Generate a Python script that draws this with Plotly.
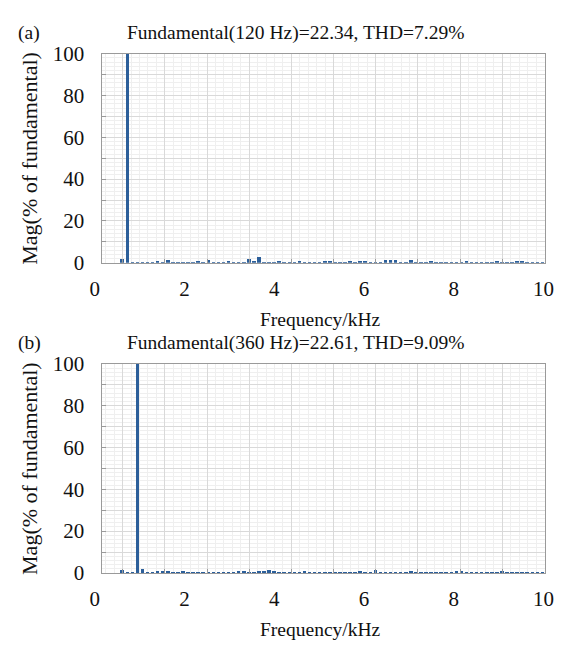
import plotly.graph_objects as go

W, H = 566, 654

# harmonic spacing of the spectrum bins (kHz)
bin_step_khz = 0.12
x_tick_vals = [0, 1, 2, 3, 4, 5, 6, 7, 8, 9, 10]
x_label_vals = [0, 2, 4, 6, 8, 10]
x_label_text = ["0", "2", "4", "6", "8", "10"]
y_tick_vals = [0, 10, 20, 30, 40, 50, 60, 70, 80, 90, 100]
y_tick_text = ["0", "", "20", "", "40", "", "60", "", "80", "", "100"]

# (a) fundamental 120 Hz, magnitude in % of fundamental, bins 0..83
mag_a = [1.8, 100, 0.6, 0.6, 0.6, 0.6, 0.7, 1.2, 0.6, 1.3,
         0.5, 0.4, 0.3, 0.3, 0.3, 1.2, 0.6, 1.3, 0.6, 0.6,
         0.6, 0.9, 0.3, 0.2, 0.2, 1.9, 0.9, 3.0, 0.6, 0.6,
         0.6, 1.1, 0.6, 0.7, 0.6, 1.2, 0.6, 0.5, 0.5, 0.4,
         0.9, 1.2, 0.5, 0.5, 0.5, 0.9, 0.5, 1.1, 1.2, 0.5,
         0.4, 0.3, 1.3, 1.4, 1.4, 0.5, 0.4, 1.3, 0.7, 0.5,
         0.5, 0.9, 0.5, 0.4, 0.3, 0.4, 0.4, 0.5, 0.8, 0.5,
         0.5, 0.5, 0.5, 0.6, 0.8, 0.5, 0.4, 0.5, 1.2, 1.2,
         0.5, 0.5, 0.5, 0.5]

# (b) fundamental 360 Hz
mag_b = [1.4, 0.7, 0.4, 100, 1.8, 0.5, 0.4, 0.8, 1.2, 0.8,
         0.4, 0.3, 1.1, 0.6, 0.6, 0.5, 0.5, 0.5, 0.5, 0.5,
         0.5, 0.5, 0.6, 1.2, 1.0, 0.5, 0.5, 0.9, 0.9, 1.6,
         1.2, 0.5, 0.6, 0.7, 0.4, 0.4, 1.2, 0.6, 0.5, 0.5,
         0.4, 0.4, 0.4, 0.4, 0.4, 0.4, 0.6, 0.8, 0.6, 0.5,
         1.6, 0.5, 0.4, 0.4, 0.5, 0.6, 0.5, 0.8, 0.5, 0.4,
         0.4, 0.4, 0.4, 0.4, 0.5, 0.7, 0.8, 0.8, 0.7, 0.6,
         0.6, 0.5, 0.5, 0.4, 0.4, 0.8, 0.6, 0.6, 0.5, 0.5,
         0.6, 0.5, 0.4, 0.4]

freq_khz = [round(k * bin_step_khz, 2) for k in range(len(mag_a))]

titles = ["Fundamental(120 Hz)=22.34, THD=7.29%",
          "Fundamental(360 Hz)=22.61, THD=9.09%"]
panel_labels = ["(a)", "(b)"]
x_title = "Frequency/kHz"
y_title = "Mag(% of fundamental)"

BAR = "#2c5f9a"
FONT = "Liberation Serif"
TXT = "#111111"

# pixel layout
px_left, px_right = 92, 547
lab_left, lab_right = 84, 546
panels_px = [(35, 252), (357, 574)]


def fx(px):
    return px / W


def fy(py):
    return 1 - py / H


fig = go.Figure()
series = [mag_a, mag_b]
for i, mags in enumerate(series):
    n = "" if i == 0 else str(i + 1)
    ln = str(i + 3)  # label axes
    top, bot = panels_px[i]
    fig.add_trace(go.Bar(x=freq_khz, y=mags, xaxis="x" + n, yaxis="y" + n,
                         marker=dict(color=BAR, line=dict(width=0)),
                         width=0.085, showlegend=False, hoverinfo="skip"))
    # invisible carrier for the frequency label axis
    fig.add_trace(go.Scatter(x=[x_label_vals[0], x_label_vals[-1]], y=[0, 0],
                             xaxis="x" + ln, yaxis="y" + ln, mode="markers",
                             marker=dict(opacity=0), showlegend=False,
                             hoverinfo="skip"))
    axis_common = dict(showline=True, linecolor="#9a9a9a", linewidth=1,
                       mirror=True, ticks="inside", ticklen=4, tickcolor="#9a9a9a",
                       gridcolor="#d9d9d9", gridwidth=1, zeroline=False,
                       tickfont=dict(family=FONT, size=21, color=TXT))
    fig.layout["xaxis" + n] = dict(axis_common, domain=[fx(px_left), fx(px_right)],
                                   anchor="y" + n, range=[-0.48, 10],
                                   tickmode="array", tickvals=x_tick_vals,
                                   showticklabels=False,
                                   minor=dict(dtick=0.2, tick0=0, showgrid=True,
                                              gridcolor="#efefef", gridwidth=1))
    fig.layout["yaxis" + n] = dict(axis_common, domain=[fy(bot), fy(top)],
                                   anchor="x" + n, range=[0, 100],
                                   tickmode="array", tickvals=y_tick_vals,
                                   ticktext=y_tick_text, ticklabelstandoff=13,
                                   minor=dict(dtick=2, tick0=0, showgrid=True,
                                              gridcolor="#efefef", gridwidth=1))
    fig.layout["xaxis" + ln] = dict(domain=[fx(lab_left), fx(lab_right)],
                                    anchor="y" + ln, range=[0, 10],
                                    tickmode="array", tickvals=x_label_vals,
                                    ticktext=x_label_text, showgrid=False,
                                    showline=False, zeroline=False, ticks="",
                                    ticklabelstandoff=11,
                                    tickfont=dict(family=FONT, size=21, color=TXT))
    fig.layout["yaxis" + ln] = dict(domain=[fy(bot), fy(top)], anchor="x" + ln,
                                    range=[0, 1], visible=False, showgrid=False)
    ann_font = dict(family=FONT, size=19.5, color=TXT)
    fig.add_annotation(x=fx(291), y=fy(top - 22), xref="paper", yref="paper",
                       text=titles[i], showarrow=False, font=ann_font,
                       xanchor="center", yanchor="middle")
    fig.add_annotation(x=fx(3), y=fy(top - 22), xref="paper", yref="paper",
                       text=panel_labels[i], showarrow=False, font=ann_font,
                       xanchor="left", yanchor="middle")
    fig.add_annotation(x=fx(316), y=fy(bot + 59), xref="paper", yref="paper",
                       text=x_title, showarrow=False, font=ann_font,
                       xanchor="center", yanchor="middle")
    fig.add_annotation(x=fx(17), y=fy((top + bot) / 2), xref="paper", yref="paper",
                       text=y_title, showarrow=False,
                       font=dict(family=FONT, size=22, color=TXT), textangle=-90,
                       xanchor="center", yanchor="middle")

fig.update_layout(width=W, height=H, margin=dict(l=0, r=0, t=0, b=0),
                  paper_bgcolor="white", plot_bgcolor="rgba(0,0,0,0)", bargap=0)
fig.write_html("out.html")
